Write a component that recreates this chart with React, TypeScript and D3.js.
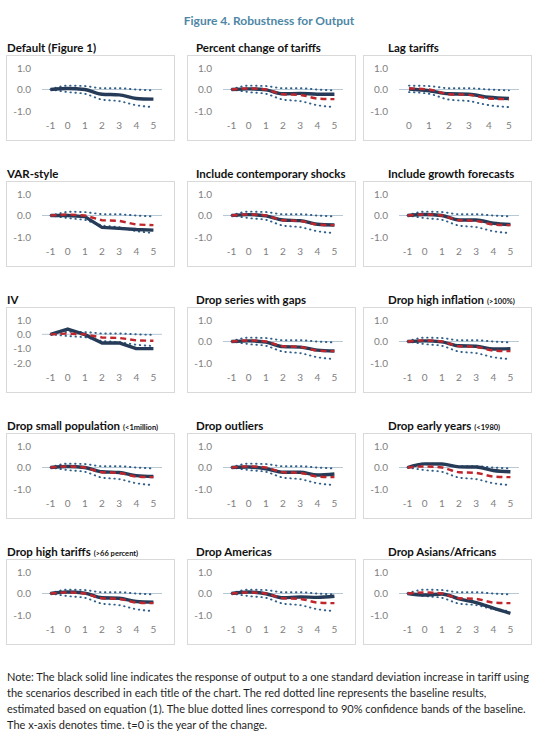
import React from "react";
import * as d3 from "d3";

// categories (t relative to the tariff change)
const xFull = ["-1", "0", "1", "2", "3", "4", "5"];
const xLag = ["0", "1", "2", "3", "4", "5"];

// baseline (Figure 1) and its 90% bands
const baseline = [0, 0.05, 0.0, -0.22, -0.25, -0.42, -0.45];
const bandUpper = [0, 0.18, 0.16, 0.06, 0.06, 0.0, -0.04];
const bandLower = [0, -0.12, -0.2, -0.47, -0.54, -0.73, -0.82];

// black line of each scenario
const defaultFig1 = [0, 0.05, 0.0, -0.22, -0.25, -0.42, -0.45];
const pctChange = [0, 0.03, -0.02, -0.2, -0.18, -0.22, -0.22];
const lagTariffs = [0.02, -0.06, -0.2, -0.22, -0.36, -0.42];
const varStyle = [0, 0.0, -0.05, -0.55, -0.6, -0.65, -0.68];
const contempShocks = [0, 0.04, -0.02, -0.21, -0.24, -0.41, -0.44];
const growthForecasts = [0, 0.05, 0.0, -0.21, -0.21, -0.36, -0.42];
const ivSeries = [0, 0.37, -0.02, -0.6, -0.6, -1.0, -1.0];
const dropGaps = [0, 0.03, -0.03, -0.24, -0.26, -0.4, -0.44];
const dropInflation = [0, 0.03, -0.02, -0.2, -0.22, -0.35, -0.33];
const dropSmallPop = [0, 0.05, 0.0, -0.2, -0.23, -0.38, -0.42];
const dropOutliers = [0, 0.02, -0.06, -0.22, -0.22, -0.35, -0.3];
const dropEarly = [0, 0.17, 0.16, 0.03, 0.02, -0.14, -0.2];
const dropHighTariffs = [0, 0.07, 0.02, -0.2, -0.22, -0.37, -0.4];
const dropAmericas = [0, 0.07, -0.01, -0.2, -0.16, -0.18, -0.13];
const dropAsiaAfrica = [0, -0.07, -0.02, -0.25, -0.42, -0.68, -0.92];

const yTicksStd = [1, 0, -1];
const yTicksIV = [1, 0, -1, -2];

const noteLines = [
  "Note: The black solid line indicates the response of output to a one standard deviation increase in tariff using",
  "the scenarios described in each title of the chart. The red dotted line represents the baseline results,",
  "estimated based on equation (1). The blue dotted lines correspond to 90% confidence bands of the baseline.",
  "The x-axis denotes time. t=0 is the year of the change.",
];

interface Panel {
  title: string;
  small?: string;
  cats: string[];
  values: number[];
  red?: number[];
  upper: number[];
  lower: number[];
  ticks: number[];
  linear?: boolean;
}

const lagBase = baseline.slice(1);
const panels: Panel[] = [
  { title: "Default (Figure 1)", cats: xFull, values: defaultFig1, upper: bandUpper, lower: bandLower, ticks: yTicksStd },
  { title: "Percent change of tariffs", cats: xFull, values: pctChange, red: baseline, upper: bandUpper, lower: bandLower, ticks: yTicksStd },
  { title: "Lag tariffs", cats: xLag, values: lagTariffs, red: lagBase, upper: bandUpper.slice(1), lower: bandLower.slice(1), ticks: yTicksStd },
  { title: "VAR-style", cats: xFull, values: varStyle, red: baseline, upper: bandUpper, lower: bandLower, ticks: yTicksStd, linear: true },
  { title: "Include contemporary shocks", cats: xFull, values: contempShocks, red: baseline, upper: bandUpper, lower: bandLower, ticks: yTicksStd },
  { title: "Include growth forecasts", cats: xFull, values: growthForecasts, red: baseline, upper: bandUpper, lower: bandLower, ticks: yTicksStd },
  { title: "IV", cats: xFull, values: ivSeries, red: baseline, upper: bandUpper, lower: bandLower, ticks: yTicksIV, linear: true },
  { title: "Drop series with gaps", cats: xFull, values: dropGaps, red: baseline, upper: bandUpper, lower: bandLower, ticks: yTicksStd },
  { title: "Drop high inflation", small: "(>100%)", cats: xFull, values: dropInflation, red: baseline, upper: bandUpper, lower: bandLower, ticks: yTicksStd },
  { title: "Drop small population", small: "(<1million)", cats: xFull, values: dropSmallPop, red: baseline, upper: bandUpper, lower: bandLower, ticks: yTicksStd },
  { title: "Drop outliers", cats: xFull, values: dropOutliers, red: baseline, upper: bandUpper, lower: bandLower, ticks: yTicksStd },
  { title: "Drop early years", small: "(<1980)", cats: xFull, values: dropEarly, red: baseline, upper: bandUpper, lower: bandLower, ticks: yTicksStd },
  { title: "Drop high tariffs", small: "(>66 percent)", cats: xFull, values: dropHighTariffs, red: baseline, upper: bandUpper, lower: bandLower, ticks: yTicksStd },
  { title: "Drop Americas", cats: xFull, values: dropAmericas, red: baseline, upper: bandUpper, lower: bandLower, ticks: yTicksStd },
  { title: "Drop Asians/Africans", cats: xFull, values: dropAsiaAfrica, red: baseline, upper: bandUpper, lower: bandLower, ticks: yTicksStd },
];

const W = 540;
const H = 734;
const colX = [6, 187, 363];
const titleX = [7, 196, 388];
const rowY = [55, 181, 307, 433, 559];
const boxW = 168;
const boxH = 85;

const font = "Lato, 'Open Sans', sans-serif";
const navy = "#263b57";
const red = "#c0262c";
const blue = "#2f5f8a";
const grey = "#808080";

function SmallChart({ p, bx, by, tx }: { p: Panel; bx: number; by: number; tx: number }) {
  const x = d3.scaleBand<string>().domain(p.cats).range([bx + 36, bx + 156]).padding(0);
  const y = d3.scaleLinear().domain([d3.min(p.ticks)!, d3.max(p.ticks)!]).range([by + 56, by + 13]);
  const cx = (c: string) => (x(c) ?? 0) + x.bandwidth() / 2;

  const line = d3
    .line<number>()
    .x((_d, i) => cx(p.cats[i]))
    .y((d) => y(d))
    .curve(p.linear ? d3.curveLinear : d3.curveMonotoneX);

  return (
    <g>
      <text x={tx} y={by - 3} fontFamily={font} fontWeight={700} fontSize={11.5} fill="#111">
        {p.title}
        {p.small && (
          <tspan fontSize={7.5} dx={3}>
            {p.small}
          </tspan>
        )}
      </text>
      <rect x={bx + 0.5} y={by + 0.5} width={boxW} height={boxH} fill="#fff" stroke="#d9d9d9" />
      {p.ticks.map((t) => (
        <text key={t} x={bx + 25} y={y(t)} dy="0.35em" textAnchor="end" fontFamily={font} fontSize={10} fill={grey}>
          {t.toFixed(1)}
        </text>
      ))}
      {p.cats.map((c) => (
        <text key={c} x={cx(c)} y={by + 70} dy="0.35em" textAnchor="middle" fontFamily={font} fontSize={10} fill={grey}>
          {c}
        </text>
      ))}
      <line x1={bx + 36} x2={bx + 156} y1={y(0)} y2={y(0)} stroke="#b8c9d6" strokeWidth={1} />
      {[p.upper, p.lower].map((s, i) => (
        <path
          key={i}
          d={line(s) ?? ""}
          fill="none"
          stroke={blue}
          strokeWidth={1.9}
          strokeDasharray="0.5,4.5"
          strokeLinecap="round"
        />
      ))}
      <path d={line(p.values) ?? ""} fill="none" stroke={navy} strokeWidth={3.4} strokeLinejoin="round" />
      {p.red && (
        <path d={line(p.red) ?? ""} fill="none" stroke={red} strokeWidth={2.4} strokeDasharray="6,4" />
      )}
    </g>
  );
}

export default function App() {
  return (
    <svg
      width={W}
      height={H}
      style={{ position: "absolute", left: 0, top: 0, background: "#fff", display: "block" }}
    >
      <rect width={W} height={H} fill="#fff" />
      <text x={269} y={25} textAnchor="middle" fontFamily={font} fontWeight={700} fontSize={12} fill="#4e87a6">
        Figure 4. Robustness for Output
      </text>
      {panels.map((p, i) => {
        const col = i % 3;
        const row = Math.floor(i / 3);
        return <SmallChart key={p.title} p={p} bx={colX[col]} by={rowY[row]} tx={titleX[col]} />;
      })}
      {noteLines.map((t, i) => (
        <text key={i} x={7} y={681 + i * 16} fontFamily={font} fontSize={11} fill="#1e1e1e">
          {t}
        </text>
      ))}
    </svg>
  );
}
